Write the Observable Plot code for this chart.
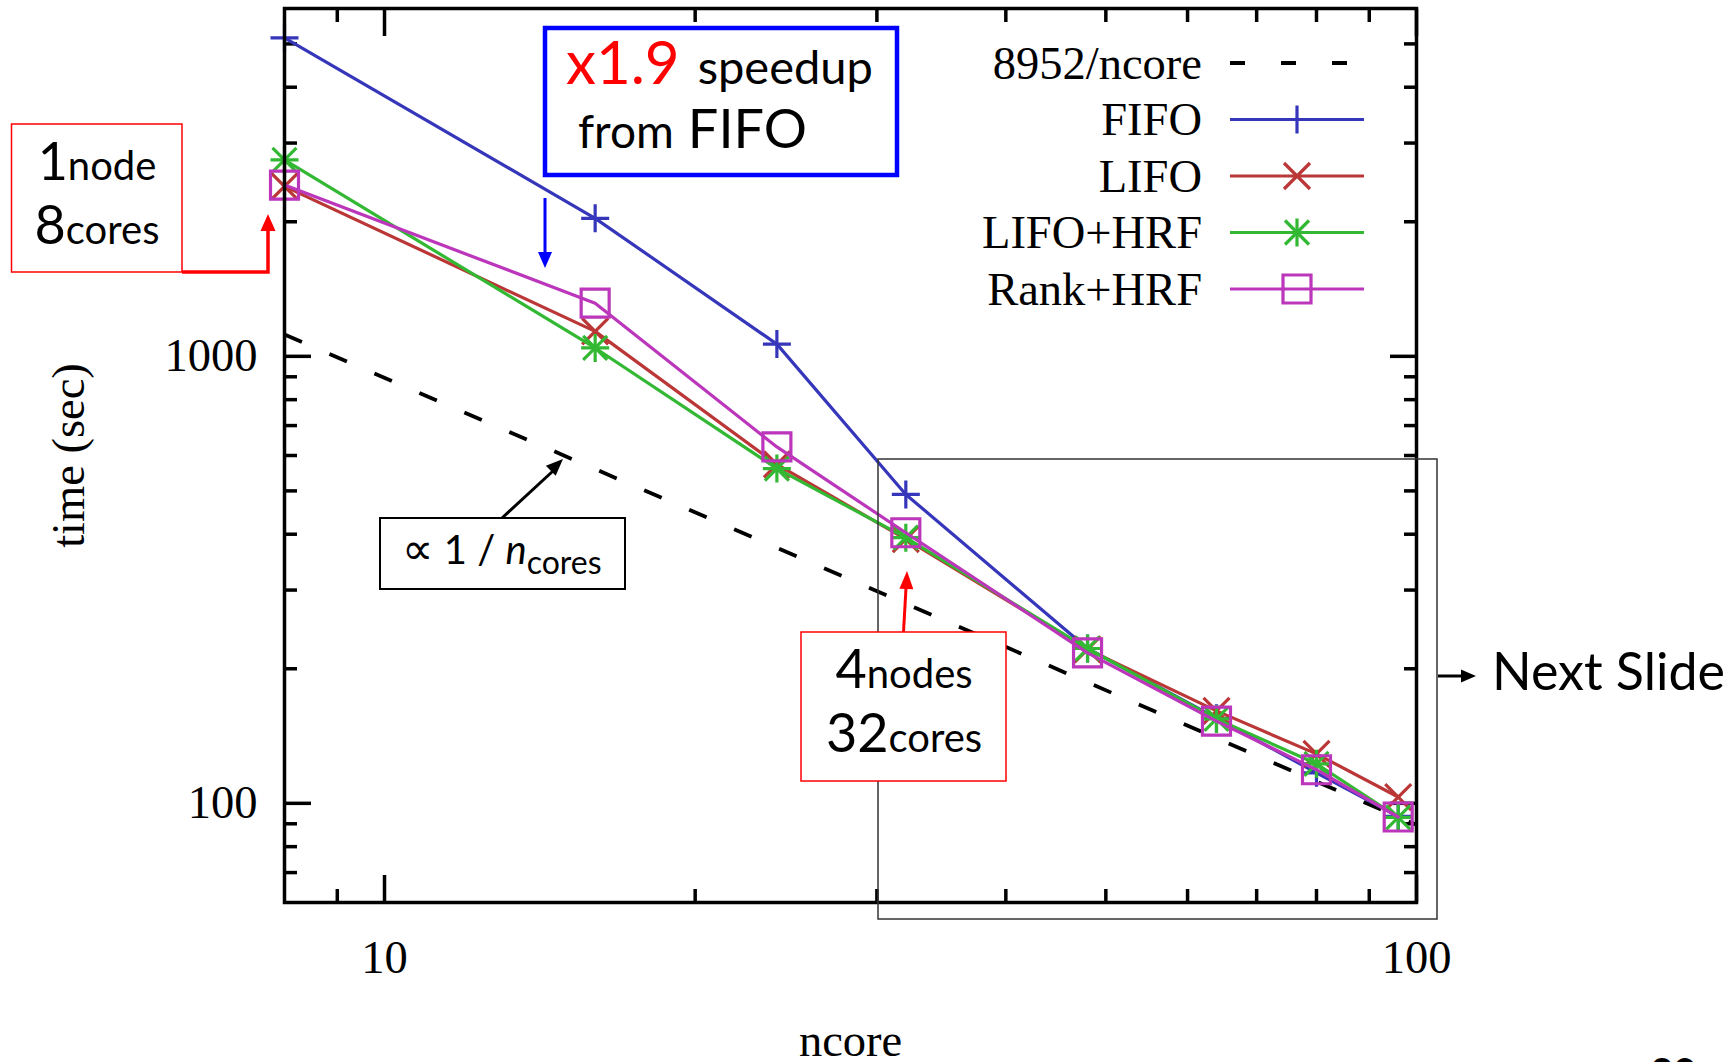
<!DOCTYPE html>
<html>
<head>
<meta charset="utf-8">
<script src="https://cdn.jsdelivr.net/npm/d3@7"></script>
<script src="https://cdn.jsdelivr.net/npm/@observablehq/plot@0.6"></script>
<style>
html, body { margin: 0; padding: 0; background: #fff; }
#chart { position: relative; width: 1734px; height: 1062px; overflow: hidden; background: #fff; }
#chart svg { display: block; }
</style>
</head>
<body>
<div id="chart"></div>
<script>
// ---------------- data ----------------
const ncore = [8, 16, 24, 32, 48, 64, 80, 96];
const fifo = [5160, 2036, 1065, 491, 222, 155, 117, 93.5];
const lifo = [2400, 1137, 573, 390, 221, 161, 129, 103.3];
const lifoHrf = [2750, 1044, 561, 393, 222, 154.5, 122.6, 93];
const rankHrf = [2416, 1315, 627, 403, 217, 152.7, 118.9, 93.2];
const seriesNames = ["FIFO", "LIFO", "LIFO+HRF", "Rank+HRF"];
const seriesColors = ["#3636bb", "#bb3636", "#33b833", "#bb36bb"];
const idealConst = 8952;            // 8952/ncore
const idealRange = [8, 100];
const idealLabel = "8952/ncore";
const xDomain = [8, 100];
const yDomain = [60, 6000];
const xMajor = [10, 100];
const xMinor = [9, 20, 30, 40, 50, 60, 70, 80, 90];
const yMajor = [100, 1000];
const yMinor = [70, 80, 90, 200, 300, 400, 500, 600, 700, 800, 900, 2000, 3000, 4000, 5000];
const xLabelTicks = [10, 100];
const yLabelTicks = [100, 1000];

// ---------------- build tables ----------------
const allSeries = [fifo, lifo, lifoHrf, rankHrf];
const rows = [];
allSeries.forEach((vals, si) => vals.forEach((t, i) => rows.push({series: seriesNames[si], ncore: ncore[i], time: t})));
const ideal = idealRange.map(n => ({ncore: n, time: idealConst / n}));

// custom stroked symbols (half-size = r)
const symPlus = {draw(c, s) { const r = Math.sqrt(s / Math.PI); c.moveTo(-r, 0); c.lineTo(r, 0); c.moveTo(0, -r); c.lineTo(0, r); }};
const symTimes = {draw(c, s) { const r = Math.sqrt(s / Math.PI); c.moveTo(-r, -r); c.lineTo(r, r); c.moveTo(-r, r); c.lineTo(r, -r); }};
const symSquare = {draw(c, s) { const r = Math.sqrt(s / Math.PI); c.moveTo(-r, -r); c.lineTo(r, -r); c.lineTo(r, r); c.lineTo(-r, r); c.closePath(); }};
const seriesSymbols = {
  "FIFO": [[symPlus, 14]],
  "LIFO": [[symTimes, 13]],
  "LIFO+HRF": [[symPlus, 14], [symTimes, 12]],
  "Rank+HRF": [[symSquare, 14]]
};

const W = 1734, H = 1062;
const mL = 284, mR = 318, mT = 8, mB = 160;
const serif = "'Liberation Serif', 'Times New Roman', serif";
const sans = "Lato, 'Noto Sans', sans-serif";
const major = 27, minor = 13, axisW = 3.5;
const serifSize = 46.5;

const marks = [];
// ticks inward on all four sides
for (const [ticks, len] of [[xMajor, major], [xMinor, minor]]) {
  marks.push(Plot.axisX(ticks, {anchor: "bottom", tickSize: len, dy: -len, tickFormat: () => "", label: null, strokeWidth: axisW}));
  marks.push(Plot.axisX(ticks, {anchor: "top", tickSize: len, dy: len, tickFormat: () => "", label: null, strokeWidth: axisW}));
}
for (const [ticks, len] of [[yMajor, major], [yMinor, minor]]) {
  marks.push(Plot.axisY(ticks, {anchor: "left", tickSize: len, dx: len, tickFormat: () => "", label: null, strokeWidth: axisW}));
  marks.push(Plot.axisY(ticks, {anchor: "right", tickSize: len, dx: -len, tickFormat: () => "", label: null, strokeWidth: axisW}));
}
// tick labels
marks.push(Plot.text(xLabelTicks, {x: d => d, frameAnchor: "bottom", dy: 56, text: d => String(d), fontSize: serifSize, fontFamily: serif, textAnchor: "middle", lineAnchor: "middle", fill: "black"}));
marks.push(Plot.text(yLabelTicks, {y: d => d, frameAnchor: "left", dx: -27, text: d => String(d), fontSize: serifSize, fontFamily: serif, textAnchor: "end", lineAnchor: "middle", fill: "black"}));
// axis titles
marks.push(Plot.text(["time (sec)"], {frameAnchor: "left", dx: -215, rotate: -90, textAnchor: "middle", lineAnchor: "middle", fontSize: serifSize, fontFamily: serif, fill: "black"}));
marks.push(Plot.text(["ncore"], {frameAnchor: "bottom", dy: 139, textAnchor: "middle", lineAnchor: "middle", fontSize: serifSize, fontFamily: serif, fill: "black"}));

// ideal scaling line
marks.push(Plot.line(ideal, {x: "ncore", y: "time", stroke: "black", strokeWidth: 3.8, strokeDasharray: "19,30", strokeLinecap: "butt"}));
// series
seriesNames.forEach((name, si) => {
  const d = rows.filter(r => r.series === name);
  marks.push(Plot.line(d, {x: "ncore", y: "time", stroke: seriesColors[si], strokeWidth: 3.2}));
  for (const [sym, r] of seriesSymbols[name]) {
    marks.push(Plot.dot(d, {x: "ncore", y: "time", symbol: sym, r, stroke: seriesColors[si], strokeWidth: 3.2, fill: "none"}));
  }
});
marks.push(Plot.frame({stroke: "black", strokeWidth: axisW}));

const plot = Plot.plot({
  width: W, height: H,
  marginLeft: mL, marginRight: mR, marginTop: mT, marginBottom: mB,
  x: {type: "log", domain: xDomain},
  y: {type: "log", domain: yDomain},
  style: {background: "white", overflow: "visible"},
  marks
});
document.getElementById("chart").appendChild(plot);

// ---------------- legend + annotations ----------------
const svg = d3.select(plot);
const g = svg.append("g").attr("class", "overlay").attr("text-anchor", "start");

// legend
const legX = 1202, lineX0 = 1230, lineX1 = 1364, symX = 1297;
const legRows = [63, 119.5, 176, 232.5, 289];
const legLabels = [idealLabel, ...seriesNames];
legLabels.forEach((lab, i) => {
  const y = legRows[i];
  g.append("text").attr("x", legX).attr("y", y + 15.5).attr("text-anchor", "end")
    .attr("font-family", serif).attr("font-size", serifSize).attr("fill", "black").text(lab);
  if (i === 0) {
    g.append("line").attr("x1", lineX0).attr("x2", lineX0 + 120).attr("y1", y).attr("y2", y)
      .attr("stroke", "black").attr("stroke-width", 3.8).attr("stroke-dasharray", "15,36");
  } else {
    const col = seriesColors[i - 1];
    g.append("line").attr("x1", lineX0).attr("x2", lineX1).attr("y1", y).attr("y2", y)
      .attr("stroke", col).attr("stroke-width", 3.2);
    for (const [sym, r] of seriesSymbols[seriesNames[i - 1]]) {
      g.append("path").attr("d", d3.symbol(sym, Math.PI * r * r)()).attr("transform", `translate(${symX},${y})`)
        .attr("fill", "none").attr("stroke", col).attr("stroke-width", 3.2);
    }
  }
});

function arrowHead(tipX, tipY, angleDeg, len, half, color) {
  const a = angleDeg * Math.PI / 180;
  const ux = Math.cos(a), uy = Math.sin(a);
  const bx = tipX - ux * len, by = tipY - uy * len;
  const px = -uy, py = ux;
  g.append("path").attr("d", `M${tipX},${tipY}L${bx + px * half},${by + py * half}L${bx - px * half},${by - py * half}Z`).attr("fill", color);
}

// gray "next slide" box
g.append("rect").attr("x", 878).attr("y", 459).attr("width", 559).attr("height", 460)
  .attr("fill", "none").attr("stroke", "#333").attr("stroke-width", 1.5);
g.append("line").attr("x1", 1438).attr("y1", 676).attr("x2", 1462).attr("y2", 676).attr("stroke", "black").attr("stroke-width", 3);
arrowHead(1476, 676, 0, 15, 6.5, "black");
g.append("text").attr("x", 1492).attr("y", 690).attr("text-anchor", "start").attr("font-family", sans).attr("font-size", 52).attr("fill", "black").text("Next Slide");

// red box 1 node
g.append("rect").attr("x", 11.5).attr("y", 124).attr("width", 170.5).attr("height", 148)
  .attr("fill", "white").attr("stroke", "red").attr("stroke-width", 1.5);
const t1 = g.append("text").attr("x", 97).attr("y", 180).attr("text-anchor", "middle").attr("font-family", sans).attr("fill", "black");
t1.append("tspan").attr("font-size", 52).text("1");
t1.append("tspan").attr("font-size", 40).text("node");
const t2 = g.append("text").attr("x", 97).attr("y", 244).attr("text-anchor", "middle").attr("font-family", sans).attr("fill", "black");
t2.append("tspan").attr("font-size", 54).text("8");
t2.append("tspan").attr("font-size", 40).text("cores");
g.append("path").attr("d", "M182,272H268V229").attr("fill", "none").attr("stroke", "red").attr("stroke-width", 3.5);
arrowHead(268, 214, -90, 17, 7.5, "red");

// blue box speedup
g.append("rect").attr("x", 545).attr("y", 28).attr("width", 352).attr("height", 147)
  .attr("fill", "white").attr("stroke", "#0000ff").attr("stroke-width", 4.5);
const t3 = g.append("text").attr("x", 566).attr("y", 84).attr("text-anchor", "start").attr("font-family", sans).attr("fill", "black");
t3.append("tspan").attr("font-size", 60).attr("fill", "red").text("x1.9");
t3.append("tspan").attr("font-size", 47).attr("dx", 18).text("speedup");
const t4 = g.append("text").attr("x", 578).attr("y", 148).attr("text-anchor", "start").attr("font-family", sans).attr("fill", "black");
t4.append("tspan").attr("font-size", 46).text("from");
t4.append("tspan").attr("font-size", 54).attr("dx", 14).text("FIFO");
g.append("line").attr("x1", 545).attr("y1", 198).attr("x2", 545).attr("y2", 255).attr("stroke", "blue").attr("stroke-width", 3);
arrowHead(545, 268, 90, 16, 7, "blue");

// black box proportional
g.append("rect").attr("x", 380).attr("y", 518).attr("width", 245).attr("height", 71)
  .attr("fill", "white").attr("stroke", "black").attr("stroke-width", 2);
const t5 = g.append("text").attr("x", 502).attr("y", 564).attr("text-anchor", "middle").attr("font-family", sans).attr("fill", "black").attr("font-size", 40);
t5.append("tspan").attr("font-size", 44).text("\u221D");
t5.append("tspan").text(" 1 / ");
t5.append("tspan").attr("font-style", "italic").text("n");
t5.append("tspan").attr("font-size", 32).attr("dy", 10).text("cores");
g.append("line").attr("x1", 502).attr("y1", 518).attr("x2", 553).attr("y2", 471).attr("stroke", "black").attr("stroke-width", 3);
arrowHead(563, 459, Math.atan2(459 - 518, 563 - 502) * 180 / Math.PI, 17, 7, "black");

// red box 4 nodes
g.append("rect").attr("x", 801).attr("y", 632).attr("width", 205).attr("height", 149)
  .attr("fill", "white").attr("stroke", "red").attr("stroke-width", 1.5);
const t6 = g.append("text").attr("x", 904).attr("y", 688).attr("text-anchor", "middle").attr("font-family", sans).attr("fill", "black");
t6.append("tspan").attr("font-size", 54).text("4");
t6.append("tspan").attr("font-size", 40).text("nodes");
const t7 = g.append("text").attr("x", 904).attr("y", 752).attr("text-anchor", "middle").attr("font-family", sans).attr("fill", "black");
t7.append("tspan").attr("font-size", 54).text("32");
t7.append("tspan").attr("font-size", 40).text("cores");
g.append("line").attr("x1", 903.5).attr("y1", 632).attr("x2", 906).attr("y2", 588).attr("stroke", "red").attr("stroke-width", 3);
arrowHead(907, 571, -88, 18, 7, "red");

// page number (cut off at bottom, as in the slide)
g.append("text").attr("x", 1650).attr("y", 1087).attr("text-anchor", "start").attr("font-family", sans).attr("font-weight", "bold").attr("font-size", 40).attr("fill", "black").text("30");
</script>
</body>
</html>
